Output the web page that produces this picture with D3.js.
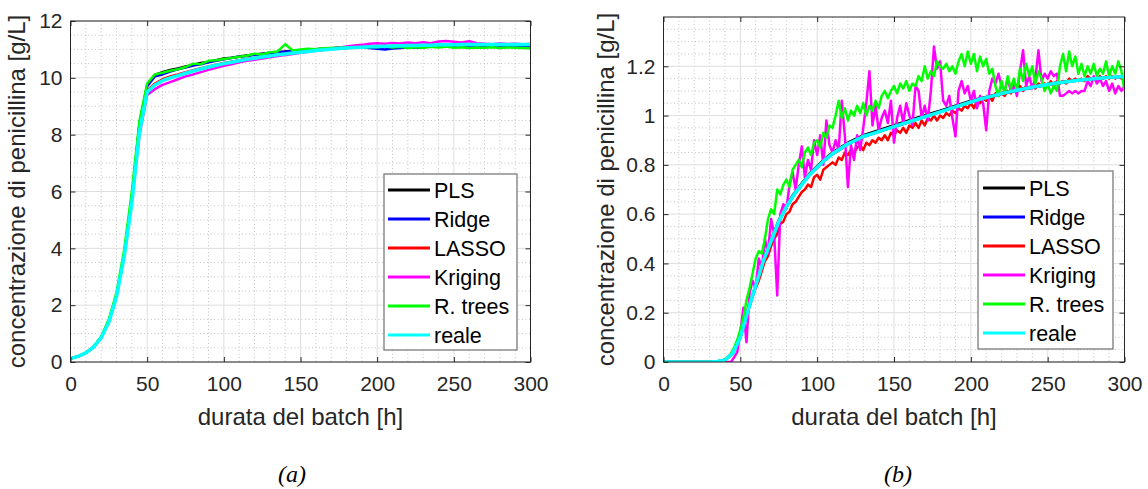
<!DOCTYPE html>
<html>
<head>
<meta charset="utf-8">
<script src="https://cdn.jsdelivr.net/npm/d3@7"></script>
<style>
  html, body { margin: 0; padding: 0; background: #fff; }
  text { font-family: "Liberation Sans", Arial, Helvetica, sans-serif; fill: #262626; }
</style>
</head>
<body>
<script>
// series names and colours (same order in both panels)
const names = ["PLS", "Ridge", "LASSO", "Kriging", "R. trees", "reale"];
const colors = ["#000000", "#0000ff", "#ff0000", "#ff00ff", "#00ff00", "#00ffff"];

// tick labels
const xTicks = [0, 50, 100, 150, 200, 250, 300];
const yTicksA = [0, 2, 4, 6, 8, 10, 12];
const yTicksB = [0, 0.2, 0.4, 0.6, 0.8, 1, 1.2];

// time grids [h]
const tA = d3.range(0, 301, 5);   // panel (a), every 5 h
const tB5 = d3.range(0, 301, 5);  // panel (b) smooth series
const tB2 = d3.range(0, 301, 2);  // panel (b) noisy series

// ---- panel (a) values [g/L], one per 5 h ----
const plsA = [0.12,0.2,0.32,0.53,0.87,1.43,2.35,3.8,5.8,8.4,
  9.75,10.1,10.2,10.28,10.33,10.4,10.45,10.52,10.56,10.62,
  10.68,10.71,10.75,10.79,10.82,10.85,10.88,10.9,10.93,10.95,
  10.97,10.99,11.01,11.02,11.04,11.05,11.06,11.07,11.08,11.09,
  11.09,11.1,11.1,11.11,11.11,11.11,11.12,11.11,11.12,11.12,
  11.11,11.12,11.12,11.11,11.12,11.12,11.11,11.12,11.12,11.11,
  11.12];
const ridgeA = [0.12,0.2,0.32,0.53,0.87,1.43,2.35,3.8,5.8,8.35,
  9.7,10.05,10.12,10.22,10.3,10.36,10.43,10.48,10.55,10.6,
  10.65,10.7,10.74,10.77,10.81,10.84,10.87,10.9,10.92,10.95,
  10.97,10.99,11.01,11.02,11.04,11.06,11.07,11.08,11.07,11.05,
  11.02,11.0,11.03,11.05,11.07,11.06,11.08,11.1,11.09,11.11,
  11.1,11.12,11.1,11.11,11.13,11.1,11.12,11.11,11.13,11.12,
  11.13];
const lassoA = [0.12,0.2,0.32,0.52,0.86,1.42,2.32,3.75,5.7,8.2,
  9.55,9.8,9.95,10.05,10.12,10.2,10.27,10.34,10.4,10.46,
  10.52,10.57,10.62,10.66,10.7,10.74,10.78,10.81,10.85,10.88,
  10.91,10.94,10.97,10.99,11.01,11.03,11.05,11.07,11.08,11.09,
  11.1,11.11,11.12,11.12,11.13,11.14,11.14,11.15,11.15,11.16,
  11.16,11.16,11.17,11.16,11.17,11.16,11.17,11.17,11.16,11.17,
  11.17];
const krigA = [0.12,0.2,0.32,0.52,0.85,1.4,2.3,3.7,5.6,8.0,
  9.4,9.6,9.75,9.85,9.95,10.05,10.12,10.2,10.28,10.35,
  10.42,10.48,10.55,10.6,10.64,10.68,10.72,10.77,10.8,10.84,
  10.88,10.92,10.95,10.98,11.02,11.06,11.1,11.14,11.16,11.2,
  11.22,11.2,11.23,11.21,11.24,11.22,11.25,11.22,11.28,11.3,
  11.27,11.24,11.29,11.22,11.2,11.18,11.21,11.19,11.2,11.18,
  11.19];
const treesA = [0.12,0.2,0.33,0.54,0.9,1.5,2.45,3.95,6.0,8.5,
  9.8,10.12,10.18,10.25,10.3,10.38,10.5,10.48,10.6,10.62,
  10.66,10.7,10.74,10.78,10.85,10.82,10.9,10.93,11.18,10.96,
  11.0,11.02,11.01,11.04,11.05,11.06,11.07,11.08,11.06,11.09,
  11.08,11.1,11.07,11.09,11.05,11.08,11.06,11.09,11.07,11.1,
  11.06,11.08,11.05,11.07,11.06,11.08,11.05,11.07,11.06,11.05,
  11.04];
const realeA = [0.12,0.2,0.32,0.52,0.85,1.4,2.3,3.7,5.6,8.1,
  9.5,9.75,9.9,10.0,10.08,10.16,10.24,10.31,10.38,10.44,
  10.5,10.55,10.6,10.65,10.69,10.73,10.77,10.81,10.84,10.87,
  10.9,10.93,10.96,10.99,11.01,11.03,11.05,11.07,11.08,11.09,
  11.1,11.11,11.12,11.13,11.14,11.14,11.15,11.15,11.16,11.16,
  11.16,11.17,11.17,11.17,11.17,11.17,11.17,11.17,11.17,11.17,
  11.17];

// ---- panel (b) values [g/L] ----
// smooth ones, every 5 h
const plsB = [0,0,0,0,0,0,0,0.002,0.009,0.037,
  0.1,0.21,0.315,0.415,0.495,0.575,0.635,0.685,0.725,0.765,
  0.795,0.825,0.85,0.87,0.89,0.905,0.92,0.931,0.941,0.951,
  0.961,0.971,0.981,0.991,1.001,1.011,1.02,1.03,1.04,1.05,
  1.06,1.068,1.076,1.084,1.092,1.099,1.106,1.112,1.118,1.123,
  1.128,1.133,1.137,1.141,1.144,1.147,1.15,1.153,1.155,1.157,
  1.159];
const ridgeB = [0,0,0,0,0,0,0,0.002,0.008,0.034,
  0.098,0.205,0.305,0.405,0.487,0.567,0.628,0.678,0.718,0.758,
  0.788,0.818,0.843,0.863,0.883,0.898,0.913,0.924,0.934,0.944,
  0.954,0.964,0.974,0.984,0.994,1.004,1.014,1.024,1.034,1.044,
  1.054,1.063,1.071,1.079,1.087,1.094,1.101,1.107,1.113,1.119,
  1.124,1.129,1.134,1.138,1.142,1.145,1.148,1.151,1.154,1.156,
  1.158];
const realeB = [0,0,0,0,0,0,0,0.002,0.008,0.035,
  0.1,0.21,0.31,0.41,0.49,0.57,0.63,0.68,0.72,0.76,
  0.79,0.82,0.845,0.865,0.885,0.9,0.915,0.925,0.935,0.945,
  0.955,0.965,0.975,0.985,0.995,1.005,1.015,1.025,1.035,1.045,
  1.055,1.065,1.073,1.081,1.089,1.096,1.103,1.109,1.115,1.121,
  1.126,1.131,1.135,1.139,1.143,1.146,1.149,1.152,1.155,1.157,
  1.159];
// noisy ones, every 2 h
const lassoB = [0,0,0,0,0,0,0,0,0,0,0,0,0,0,0,0,0,0,0,0,
  0.008,0.016,0.03,0.05,0.075,0.11,0.15,0.2,0.24,0.27,
  0.3,0.33,0.37,0.41,0.43,0.47,0.5,0.52,0.56,0.57,
  0.6,0.61,0.64,0.65,0.67,0.69,0.7,0.72,0.71,0.75,
  0.76,0.74,0.78,0.79,0.8,0.81,0.8,0.83,0.82,0.85,
  0.84,0.86,0.85,0.87,0.88,0.86,0.89,0.88,0.9,0.89,
  0.91,0.9,0.92,0.9,0.93,0.92,0.94,0.93,0.95,0.93,
  0.96,0.95,0.97,0.95,0.98,0.96,0.99,0.98,1.0,0.98,
  1.0,0.99,1.01,1.0,1.02,1.01,1.03,1.02,1.04,1.03,
  1.05,1.03,1.06,1.05,1.07,1.06,1.08,1.06,1.09,1.08,
  1.09,1.08,1.1,1.09,1.11,1.1,1.12,1.1,1.12,1.11,
  1.12,1.11,1.13,1.12,1.13,1.12,1.14,1.12,1.14,1.13,
  1.14,1.13,1.15,1.14,1.15,1.14,1.15,1.14,1.16,1.15,
  1.15,1.14,1.16,1.15,1.16,1.15,1.16,1.15,1.16,1.15,
  1.16];
const krigB = [0,0,0,0,0,0,0,0,0,0,0,0,0,0,0,0,0,0,0,0,0,0,0,
  0.02,0.04,0.12,0.22,0.08,0.28,0.33,0.3,0.42,0.38,
  0.5,0.44,0.58,0.52,0.27,0.6,0.64,0.62,0.72,0.77,
  0.7,0.8,0.875,0.75,0.82,0.78,0.9,0.84,0.92,0.8,
  0.98,0.88,0.85,0.9,0.86,1.06,0.92,0.71,0.88,0.82,
  0.92,0.86,0.95,1.05,1.18,0.96,1.04,0.94,0.99,1.02,
  0.97,1.06,0.89,0.99,1.04,0.97,1.05,1.0,0.96,1.12,
  1.1,0.99,1.04,0.98,1.1,1.28,1.19,1.22,1.06,1.04,
  1.08,0.99,0.915,1.1,1.14,1.09,1.12,1.06,1.1,1.03,
  1.08,1.05,0.94,1.1,1.15,1.13,1.17,1.12,1.1,1.15,
  1.1,1.13,1.08,1.18,1.265,1.12,1.16,1.11,1.15,1.265,
  1.14,1.17,1.15,1.18,1.16,1.17,1.08,1.08,1.09,1.1,
  1.09,1.1,1.09,1.1,1.1,1.14,1.12,1.16,1.13,1.15,
  1.12,1.14,1.1,1.13,1.09,1.12,1.1,1.12];
const treesB = [0,0,0,0,0,0,0,0,0,0,0,0,0,0,0,0,0,0,0,
  0.003,0.01,0.02,0.035,0.06,0.09,0.13,0.18,0.25,0.3,
  0.36,0.42,0.45,0.44,0.5,0.58,0.62,0.6,0.7,0.68,
  0.72,0.74,0.71,0.78,0.8,0.82,0.79,0.85,0.87,0.84,
  0.89,0.9,0.87,0.93,0.91,0.96,0.95,1.0,1.06,0.99,
  1.03,0.98,1.02,1.0,1.04,1.01,1.05,1.0,1.04,1.02,
  1.06,1.03,1.08,1.1,1.07,1.1,1.12,1.09,1.13,1.11,
  1.14,1.1,1.13,1.12,1.16,1.14,1.2,1.15,1.18,1.16,
  1.22,1.2,1.19,1.21,1.18,1.2,1.17,1.22,1.25,1.2,
  1.26,1.21,1.25,1.18,1.24,1.2,1.23,1.17,1.19,1.12,
  1.08,1.14,1.09,1.16,1.11,1.15,1.1,1.19,1.14,1.21,
  1.16,1.2,1.13,1.18,1.15,1.1,1.13,1.09,1.12,1.1,
  1.2,1.25,1.18,1.26,1.2,1.24,1.17,1.21,1.16,1.2,
  1.17,1.21,1.16,1.19,1.17,1.22,1.16,1.2,1.17,1.22,
  1.18,1.1];

const W = 1148, H = 489;
const svg = d3.select("body").append("svg")
  .attr("width", W)
  .attr("height", H)
  .style("background", "#fff");

function drawPanel(p) {
  const x = d3.scaleLinear().domain([0, 300]).range([p.left, p.right]);
  const y = d3.scaleLinear().domain([0, p.yMax]).range([p.bottom, p.top]);
  const g = svg.append("g");

  // minor grid (dotted)
  const minorX = d3.range(10, 300, 10).filter(v => v % 50 !== 0);
  const minorY = d3.range(1, Math.round(p.yMax / p.yMinor))
    .filter(i => i % p.minorPerMajor !== 0).map(i => i * p.yMinor);
  g.selectAll(".mx").data(minorX).join("line")
    .attr("x1", d => x(d)).attr("x2", d => x(d))
    .attr("y1", p.top).attr("y2", p.bottom)
    .attr("stroke", "#c4c4c4").attr("stroke-dasharray", "1,2.5");
  g.selectAll(".my").data(minorY).join("line")
    .attr("x1", p.left).attr("x2", p.right)
    .attr("y1", d => y(d)).attr("y2", d => y(d))
    .attr("stroke", "#c4c4c4").attr("stroke-dasharray", "1,2.5");
  // major grid
  g.selectAll(".gx").data(xTicks).join("line")
    .attr("x1", d => x(d)).attr("x2", d => x(d))
    .attr("y1", p.top).attr("y2", p.bottom)
    .attr("stroke", "#dedede");
  g.selectAll(".gy").data(p.yTicks).join("line")
    .attr("x1", p.left).attr("x2", p.right)
    .attr("y1", d => y(d)).attr("y2", d => y(d))
    .attr("stroke", "#dedede");

  // data lines
  const clipId = "clip" + p.id;
  svg.append("clipPath").attr("id", clipId).append("rect")
    .attr("x", p.left).attr("y", p.top)
    .attr("width", p.right - p.left).attr("height", p.bottom - p.top);
  const lines = g.append("g").attr("clip-path", `url(#${clipId})`);
  p.series.forEach((s, i) => {
    const pts = s.t.map((t, k) => [t, s.v[k]]);
    lines.append("path")
      .datum(pts)
      .attr("fill", "none")
      .attr("stroke", colors[i])
      .attr("stroke-width", i === 5 ? 3.5 : 2.5)
      .attr("stroke-linejoin", "round")
      .attr("d", d3.line().x(d => x(d[0])).y(d => y(d[1])));
  });

  // axes: ticks inward on all four sides
  const fmt = d3.format("");
  const styleAxis = sel => {
    sel.select(".domain").remove();
    sel.selectAll("line").attr("stroke", "#262626");
    sel.selectAll("text").attr("font-size", "21px").attr("fill", "#262626")
      .attr("font-family", "Liberation Sans, Arial, sans-serif");
  };
  g.append("g").attr("transform", `translate(0,${p.bottom})`)
    .call(d3.axisBottom(x).tickValues(xTicks).tickSizeInner(-5).tickSizeOuter(0).tickPadding(14))
    .call(styleAxis);
  g.append("g").attr("transform", `translate(0,${p.top})`)
    .call(d3.axisTop(x).tickValues(xTicks).tickSizeInner(-5).tickSizeOuter(0).tickFormat(""))
    .call(styleAxis);
  g.append("g").attr("transform", `translate(${p.left},0)`)
    .call(d3.axisLeft(y).tickValues(p.yTicks).tickSizeInner(-5).tickSizeOuter(0).tickPadding(8).tickFormat(fmt))
    .call(styleAxis);
  g.append("g").attr("transform", `translate(${p.right},0)`)
    .call(d3.axisRight(y).tickValues(p.yTicks).tickSizeInner(-5).tickSizeOuter(0).tickFormat(""))
    .call(styleAxis);
  g.append("rect")
    .attr("x", p.left).attr("y", p.top)
    .attr("width", p.right - p.left).attr("height", p.bottom - p.top)
    .attr("fill", "none").attr("stroke", "#262626").attr("stroke-width", 1);

  // labels
  g.append("text")
    .text("durata del batch [h]")
    .attr("x", (p.left + p.right) / 2).attr("y", 425)
    .attr("text-anchor", "middle").attr("font-size", "24px");
  g.append("text")
    .text("concentrazione di penicillina [g/L]")
    .attr("transform", `translate(${p.ylabelX},${(p.top + p.bottom) / 2}) rotate(-90)`)
    .attr("text-anchor", "middle").attr("font-size", "24px");
  g.append("text")
    .text(p.caption)
    .attr("x", p.captionX).attr("y", 482)
    .attr("text-anchor", "middle").attr("font-size", "24px")
    .style("font-family", "'Liberation Serif', 'Times New Roman', serif")
    .style("font-style", "italic")
    .style("fill", "#000");

  // legend
  const L = p.legend;
  const lg = g.append("g");
  lg.append("rect")
    .attr("x", L.x).attr("y", L.y).attr("width", L.w).attr("height", L.h)
    .attr("fill", "#fff").attr("stroke", "#7a7a7a").attr("stroke-width", 1.3);
  names.forEach((n, i) => {
    const yy = L.row0 + i * 29;
    lg.append("line")
      .attr("x1", L.x0).attr("x2", L.x1).attr("y1", yy).attr("y2", yy)
      .attr("stroke", colors[i]).attr("stroke-width", 3);
    lg.append("text")
      .text(n)
      .attr("x", L.tx).attr("y", yy).attr("dy", "0.36em")
      .attr("font-size", "21.5px").style("fill", "#000");
  });
}

drawPanel({
  id: "a", left: 70.5, right: 530.5, top: 21, bottom: 362,
  yMax: 12, yTicks: yTicksA, yMinor: 0.5, minorPerMajor: 4,
  ylabelX: 24.5, caption: "(a)", captionX: 292,
  legend: { x: 384, y: 174, w: 133, h: 176, x0: 388, x1: 430, tx: 434, row0: 190 },
  series: [
    { t: tA, v: plsA }, { t: tA, v: ridgeA }, { t: tA, v: lassoA },
    { t: tA, v: krigA }, { t: tA, v: treesA }, { t: tA, v: realeA }
  ]
});

drawPanel({
  id: "b", left: 663.5, right: 1124.5, top: 17, bottom: 362,
  yMax: 1.4, yTicks: yTicksB, yMinor: 0.05, minorPerMajor: 4,
  ylabelX: 614, caption: "(b)", captionX: 898,
  legend: { x: 978, y: 171, w: 135, h: 178, x0: 983, x1: 1025, tx: 1029, row0: 188 },
  series: [
    { t: tB5, v: plsB }, { t: tB5, v: ridgeB }, { t: tB2, v: lassoB },
    { t: tB2, v: krigB }, { t: tB2, v: treesB }, { t: tB5, v: realeB }
  ]
});
</script>
</body>
</html>
